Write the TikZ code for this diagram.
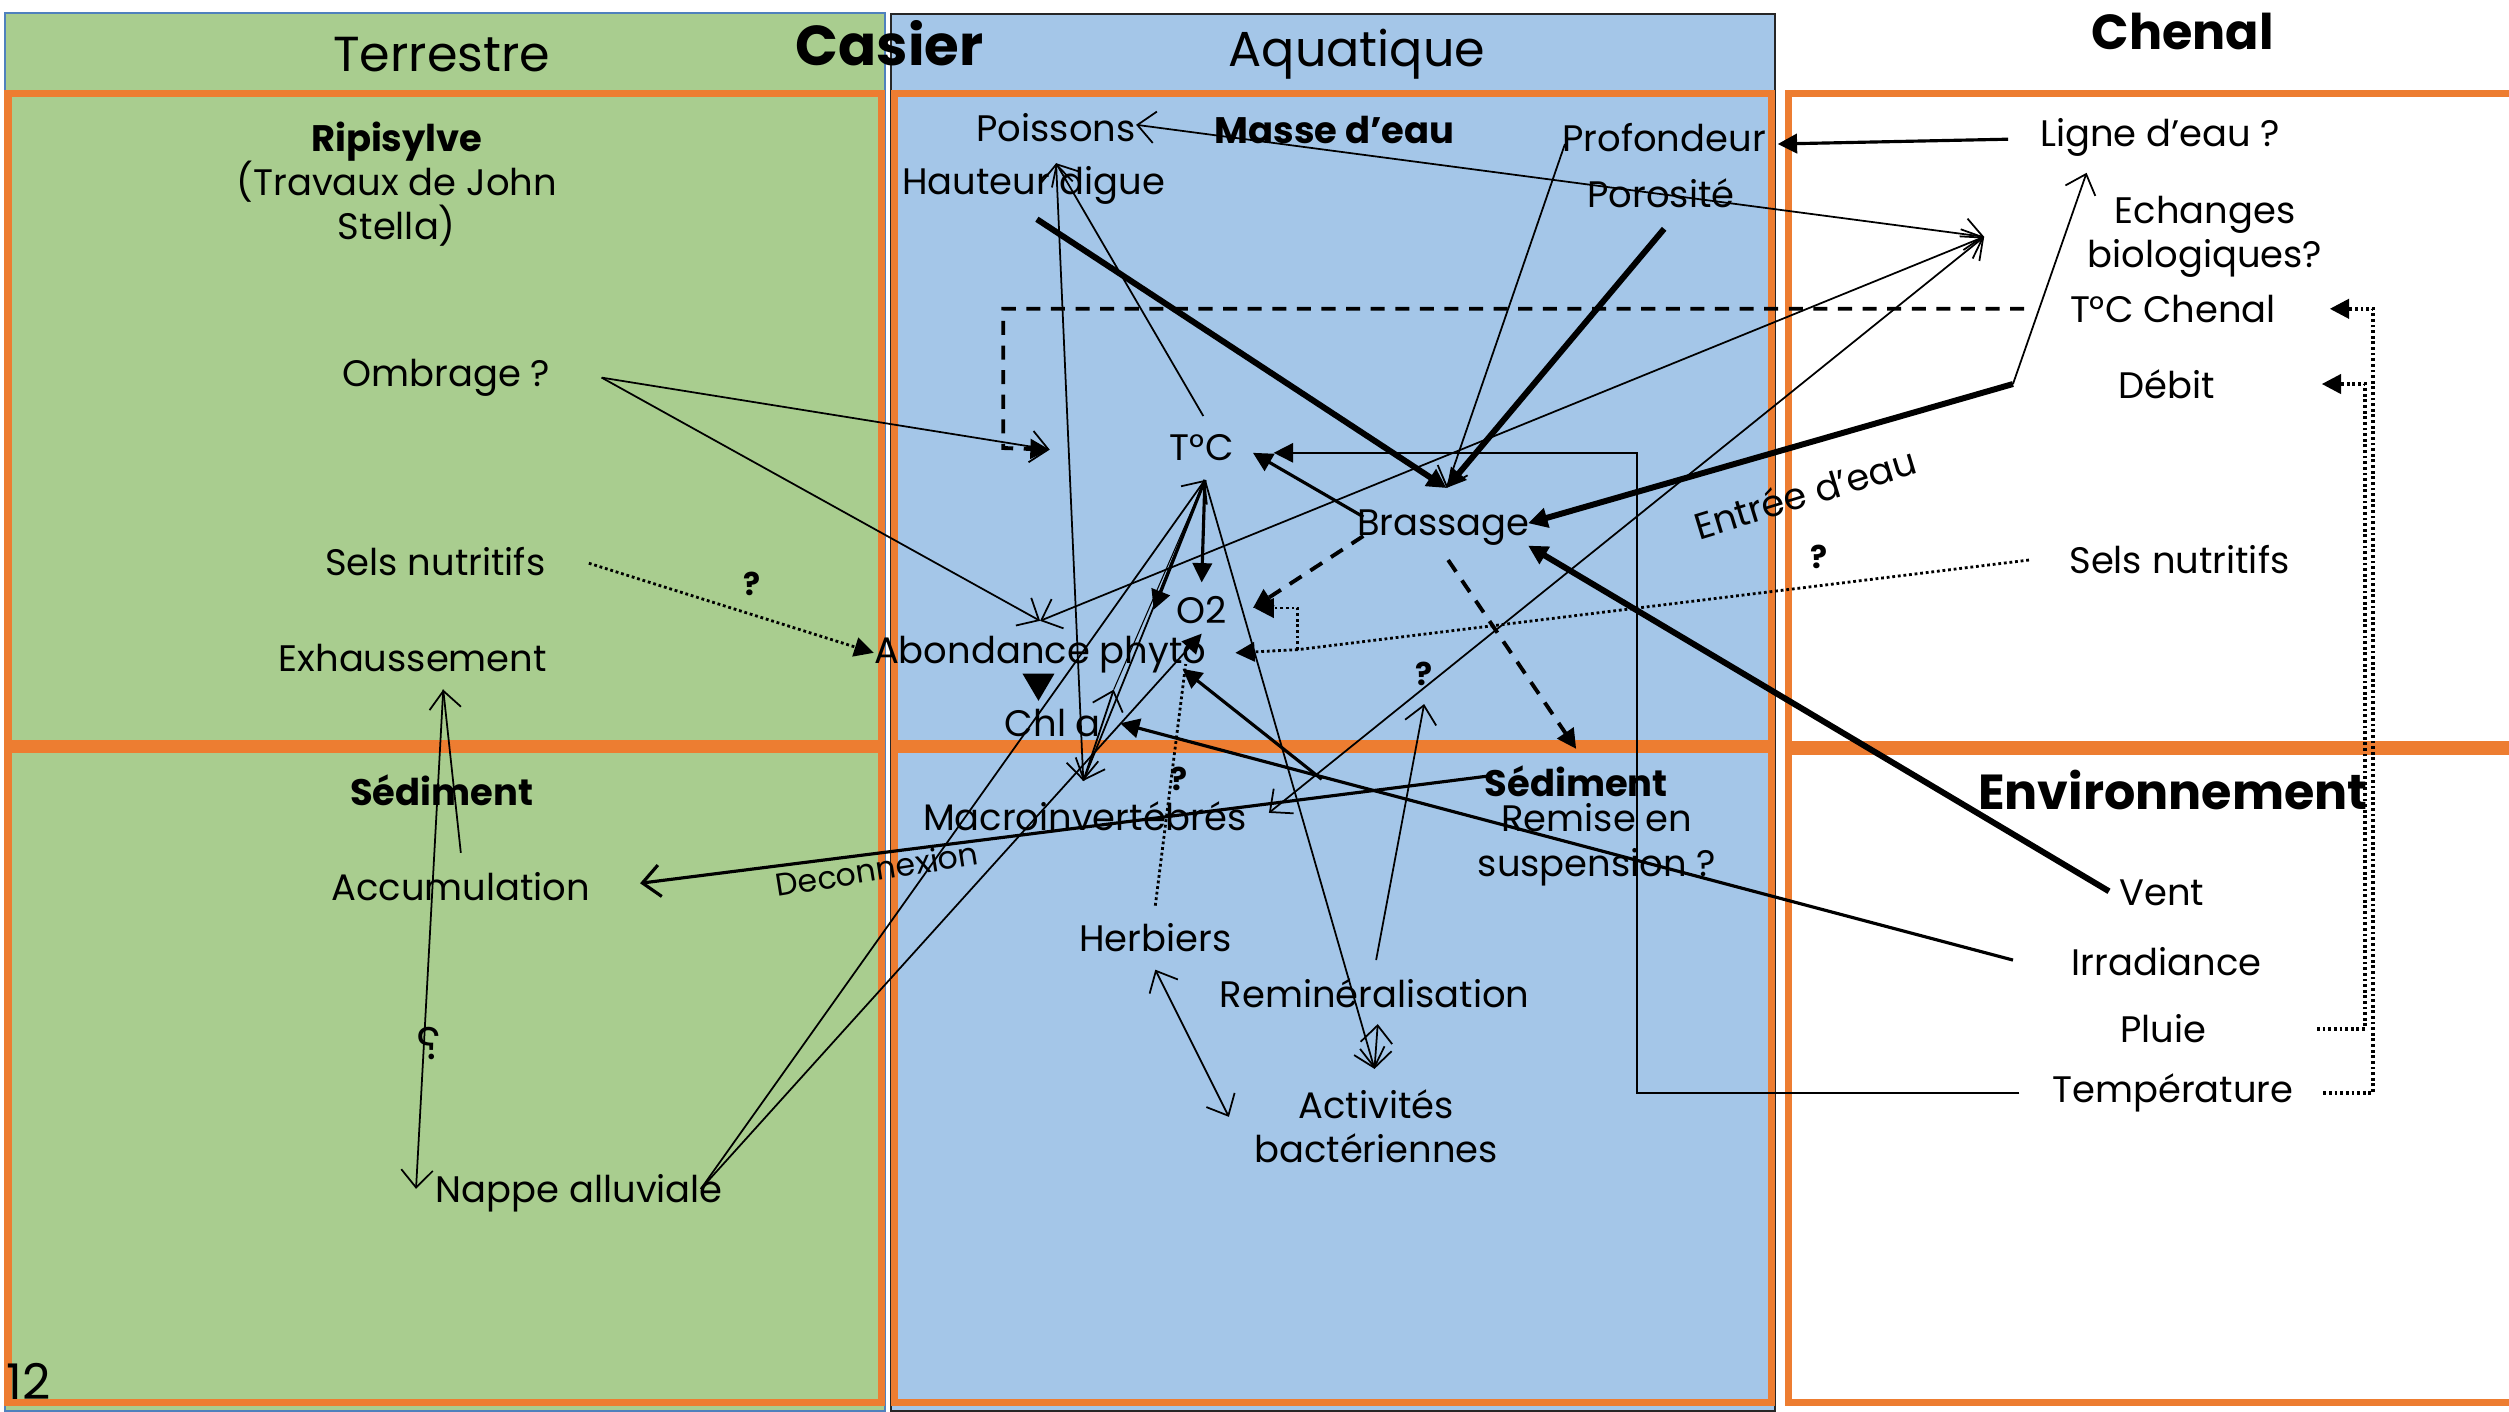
\documentclass[tikz,border=0pt]{standalone}
\usepackage{fontspec}
\setmainfont{Poppins}
\usetikzlibrary{arrows.meta}
\definecolor{grassgreen}{HTML}{A9CD8F}
\definecolor{waterblue}{HTML}{A4C6E8}
\definecolor{boxorange}{HTML}{ED7D31}
\definecolor{edgeblue}{HTML}{4F81BD}
\tikzset{
  zonebox/.style={draw=boxorange, line width=2pt},
  lbl/.style={font=\fontsize{10.5}{12.6}\selectfont, inner sep=0pt},
  blbl/.style={font=\bfseries\fontsize{10.5}{12.6}\selectfont, inner sep=0pt},
  headlbl/.style={font=\fontsize{14}{16}\selectfont, inner sep=0pt},
  titlelbl/.style={font=\bfseries\fontsize{14}{17}\selectfont, inner sep=0pt},
  qmark/.style={font=\bfseries\fontsize{9}{10}\selectfont, inner sep=0pt},
  link/.style={line width=0.5pt},
  midlink/.style={line width=0.9pt},
  heavylink/.style={line width=1.7pt},
  dashlink/.style={line width=1.1pt, dash pattern=on 4pt off 3pt},
  dotlink/.style={line width=0.8pt, dash pattern=on 0.8pt off 0.8pt},
  openend/.style={-{Straight Barb[length=5pt,width=9pt]}},
  openboth/.style={{Straight Barb[length=5pt,width=9pt]}-{Straight Barb[length=5pt,width=9pt]}},
  solidend/.style={-{Triangle[length=5.5pt,width=5.5pt]}},
}

\begin{document}
\begin{tikzpicture}[x=0.016cm, y=-0.016cm]
\useasboundingbox (0,0) rectangle (1568,882);
% zones
\fill[grassgreen] (3,8) rectangle (553,882);
\draw[edgeblue, line width=0.6pt] (3,8) rectangle (553,882);
\fill[waterblue] (557,9) rectangle (1109,882);
\draw[black!85, line width=0.6pt] (557,9) rectangle (1109,882);
\draw[black!85, line width=0.6pt] (557,9) rectangle (1109,57);
\draw[zonebox] (5,58.5) rectangle (551,464.5);
\draw[zonebox] (5,468.5) rectangle (551,876.5);
\draw[zonebox] (559,58.5) rectangle (1107,464.5);
\draw[zonebox] (559,468.5) rectangle (1107,876.5);
\draw[zonebox] (1118,58.5) rectangle (1580,465);
\draw[zonebox] (1118,469.5) rectangle (1580,876.5);

% titres
\node[headlbl] (terr) at (276,34) {Terrestre};
\node[headlbl] (aqua) at (848,34) {Aquatique};
\node[font=\bfseries\fontsize{16}{19}\selectfont, inner sep=0pt] (casier) at (556,27) {Casier};
\node[titlelbl] (chenal) at (1364,20) {Chenal};
\node[titlelbl] (envt) at (1358,494) {Environnement};

% terrestre
\node[lbl, align=center] (ripi) at (248,115) {\textbf{Ripisylve}\\(Travaux de John\\Stella)};
\node[lbl] (ombrage) at (279,236) {Ombrage ?};
\node[lbl] (selsL) at (272,351) {Sels nutritifs};
\node[qmark] (qsels) at (470,365) {?};
\node[lbl] (exhauss) at (258,411) {Exhaussement};
\node[blbl] (sedL) at (276,494) {Sédiment};
\node[lbl] (accum) at (288,554) {Accumulation};
\node[font=\fontsize{13}{15}\selectfont, inner sep=0pt] (qnappe) at (268,652) {\reflectbox{?}};
\node[lbl] (nappe) at (362,746) {Nappe alluviale};
\node[font=\fontsize{14}{16}\selectfont, inner sep=0pt] (pagenum) at (18,863) {12};

% aquatique
\node[lbl] (poissons) at (660,80) {Poissons};
\node[blbl] (masse) at (834,81) {Masse d’eau};
\node[lbl] (hauteur) at (646,116) {Hauteur digue};
\node[lbl] (profond) at (1040,86) {Profondeur};
\node[lbl] (porosite) at (1038,121) {Porosité};
\node[lbl] (tc) at (751,280) {T°C};
\node[lbl] (brassage) at (902,330) {Brassage};
\node[lbl] (otwo) at (751,381) {O2};
\node[lbl] (phyto) at (650,409) {Abondance phyto};
\node[lbl] (chla) at (658,452) {Chl a};
\node[qmark] (qremin) at (890,421) {?};
\node[lbl, rotate=17] (entree) at (1128,308) {Entrée d’eau};
\node[qmark] (qselsR) at (1137,348) {?};
\node[blbl] (sedM) at (985,488) {Sédiment};
\node[lbl, align=center] (remise) at (998,528) {Remise en\\suspension ?};
\node[lbl] (macro) at (678,510) {Macroinvertébrés};
\node[qmark] (qherb) at (737,487) {?};
\node[font=\fontsize{9}{10}\selectfont, inner sep=0pt, rotate=9] (deconnex) at (548,543) {Deconnexion};
\node[lbl] (herbiers) at (722,586) {Herbiers};
\node[lbl] (remin) at (859,621) {Reminéralisation};
\node[lbl, align=center] (activ) at (860,704) {Activités\\bactériennes};

% chenal et environnement
\node[lbl] (ligne) at (1350,86) {Ligne d’eau ?};
\node[lbl, align=center] (echanges) at (1378,148) {Echanges\\biologiques?};
\node[lbl] (tcchenal) at (1358,193) {T°C Chenal};
\node[lbl] (debit) at (1354,240) {Débit};
\node[lbl] (selsR) at (1362,350) {Sels nutritifs};
\node[lbl] (vent) at (1351,558) {Vent};
\node[lbl] (irrad) at (1354,601) {Irradiance};
\node[lbl] (pluie) at (1352,643) {Pluie};
\node[lbl] (temper) at (1358,683) {Température};

% points d'accroche
\coordinate (hub) at (1240,148);
\coordinate (poissons-e) at (710,78);
\coordinate (poissons-s) at (660,102);
\coordinate (phyto-n) at (650,388);
\coordinate (macro-ne) at (793,508);
\coordinate (ombrage-e) at (376,236);
\coordinate (tcbox) at (656,281);
\coordinate (dash-a) at (627,193);
\coordinate (dash-b) at (627,280);
\coordinate (tcchenal-w) at (1265,193);
\coordinate (hauteur-s) at (648,137);
\coordinate (brassage-n) at (904,305);
\coordinate (profond-sw) at (978,90);
\coordinate (porosite-s) at (1040,143);
\coordinate (ligne-w) at (1255,87);
\coordinate (profond-e) at (1111,90);
\coordinate (entree-bend) at (1258,240);
\coordinate (ligne-s) at (1304,108);
\coordinate (brassage-e) at (955,327);
\coordinate (vent-w) at (1318,557);
\coordinate (brassage-se) at (955,341);
\coordinate (brassage-w) at (852,323);
\coordinate (tc-e) at (783,283);
\coordinate (tc-e2) at (796,283);
\coordinate (temper-w) at (1262,683);
\coordinate (temp-a) at (1023,683);
\coordinate (temp-b) at (1023,283);
\coordinate (brassage-sw) at (852,335);
\coordinate (otwo-ne) at (783,380);
\coordinate (brassage-s) at (905,350);
\coordinate (sedM-n) at (985,468);
\coordinate (selsR-w) at (1268,350);
\coordinate (nutjoin) at (811,406);
\coordinate (nutup) at (811,380);
\coordinate (otwo-e) at (784,380);
\coordinate (phyto-e) at (772,408);
\coordinate (selsL-e) at (368,352);
\coordinate (phyto-w) at (546,408);
\coordinate (tc-s) at (753,300);
\coordinate (otwo-n) at (751,364);
\coordinate (phyto-ne) at (721,381);
\coordinate (tc-n) at (752,260);
\coordinate (macro-n) at (677,488);
\coordinate (chla-ne) at (696,431);
\coordinate (nappe-e) at (438,743);
\coordinate (otwo-s) at (751,396);
\coordinate (activ-n) at (859,668);
\coordinate (remin-s) at (861,640);
\coordinate (remin-n) at (860,600);
\coordinate (qremin-s) at (890,440);
\coordinate (irrad-w) at (1258,600);
\coordinate (chla-e) at (700,452);
\coordinate (sedM-nw) at (826,487);
\coordinate (phyto-se) at (739,418);
\coordinate (sedM-w) at (930,485);
\coordinate (accum-e) at (400,552);
\coordinate (herbiers-s) at (722,606);
\coordinate (activ-nw) at (768,698);
\coordinate (herbiers-n) at (722,566);
\coordinate (otwo-sw) at (741,415);
\coordinate (accum-n) at (288,533);
\coordinate (exhauss-s) at (277,431);
\coordinate (nappe-w) at (260,743);
\coordinate (temper-e) at (1452,683);
\coordinate (pluie-e) at (1448,643);
\coordinate (tcchenal-e) at (1456,193);
\coordinate (debit-e) at (1451,240);

% echanges biologiques
\draw[link, openboth] (poissons-e) -- (hub);
\draw[link, openboth] (phyto-n) -- (hub);
\draw[link, openboth] (macro-ne) -- (hub);

% ombrage et T°C chenal
\draw[link, openend] (ombrage-e) -- (tcbox);
\draw[link, openend] (ombrage-e) -- (phyto-n);
\draw[dashlink, solidend] (tcchenal-w) -- (dash-a) -- (dash-b) -- (tcbox);

% brassage
\draw[heavylink, solidend] (hauteur-s) -- (brassage-n);
\draw[link, openend] (profond-sw) -- (brassage-n);
\draw[heavylink, solidend] (porosite-s) -- (brassage-n);
\draw[midlink, solidend] (ligne-w) -- (profond-e);
\draw[link, openend] (entree-bend) -- (ligne-s);
\draw[heavylink, solidend] (entree-bend) -- (brassage-e);
\draw[heavylink, solidend] (vent-w) -- (brassage-se);
\draw[midlink, solidend] (brassage-w) -- (tc-e);
\draw[link, solidend] (temper-w) -- (temp-a) -- (temp-b) -- (tc-e2);
\draw[dashlink, solidend] (brassage-sw) -- (otwo-ne);
\draw[dashlink, solidend] (brassage-s) -- (sedM-n);

% sels nutritifs
\draw[dotlink] (selsR-w) -- (nutjoin);
\draw[dotlink, solidend] (nutjoin) -- (nutup) -- (otwo-e);
\draw[dotlink, solidend] (nutjoin) -- (phyto-e);
\draw[dotlink, solidend] (selsL-e) -- (phyto-w);

% T°C
\draw[midlink, solidend] (tc-s) -- (otwo-n);
\draw[midlink, solidend] (tc-s) -- (phyto-ne);
\draw[link, openend] (tc-n) -- (poissons-s);
\draw[link, openboth] (poissons-s) -- (macro-n);
\draw[link, openend] (tc-s) -- (macro-n);
\draw[link, openend] (macro-n) -- (chla-ne);
\draw[line width=0.3pt] (chla-ne) -- (tc-s);
\draw[link, openend] (nappe-e) -- (tc-s);
\draw[link, solidend] (nappe-e) -- (otwo-s);
\draw[link, openend] (tc-s) -- (activ-n);

% sediment
\draw[link, openboth] (remin-s) -- (activ-n);
\draw[link, openend] (remin-n) -- (qremin-s);
\draw[midlink, solidend] (irrad-w) -- (chla-e);
\draw[midlink, solidend] (sedM-nw) -- (phyto-se);
\draw[midlink, openend] (sedM-w) -- (accum-e);
\draw[link, openboth] (herbiers-s) -- (activ-nw);
\draw[dotlink] (herbiers-n) -- (otwo-sw);
\draw[link, openend] (accum-n) -- (exhauss-s);
\draw[link, openend] (exhauss-s) -- (nappe-w);
\fill (639,421) -- (659,421) -- (649,438) -- cycle;

% forçages du chenal
\draw[dotlink, line width=1pt, solidend] (temper-e) -- (1483,683) -- (1483,193) -- (tcchenal-e);
\draw[dotlink, line width=1pt, solidend] (pluie-e) -- (1478,643) -- (1478,240) -- (debit-e);
\end{tikzpicture}
\end{document}
